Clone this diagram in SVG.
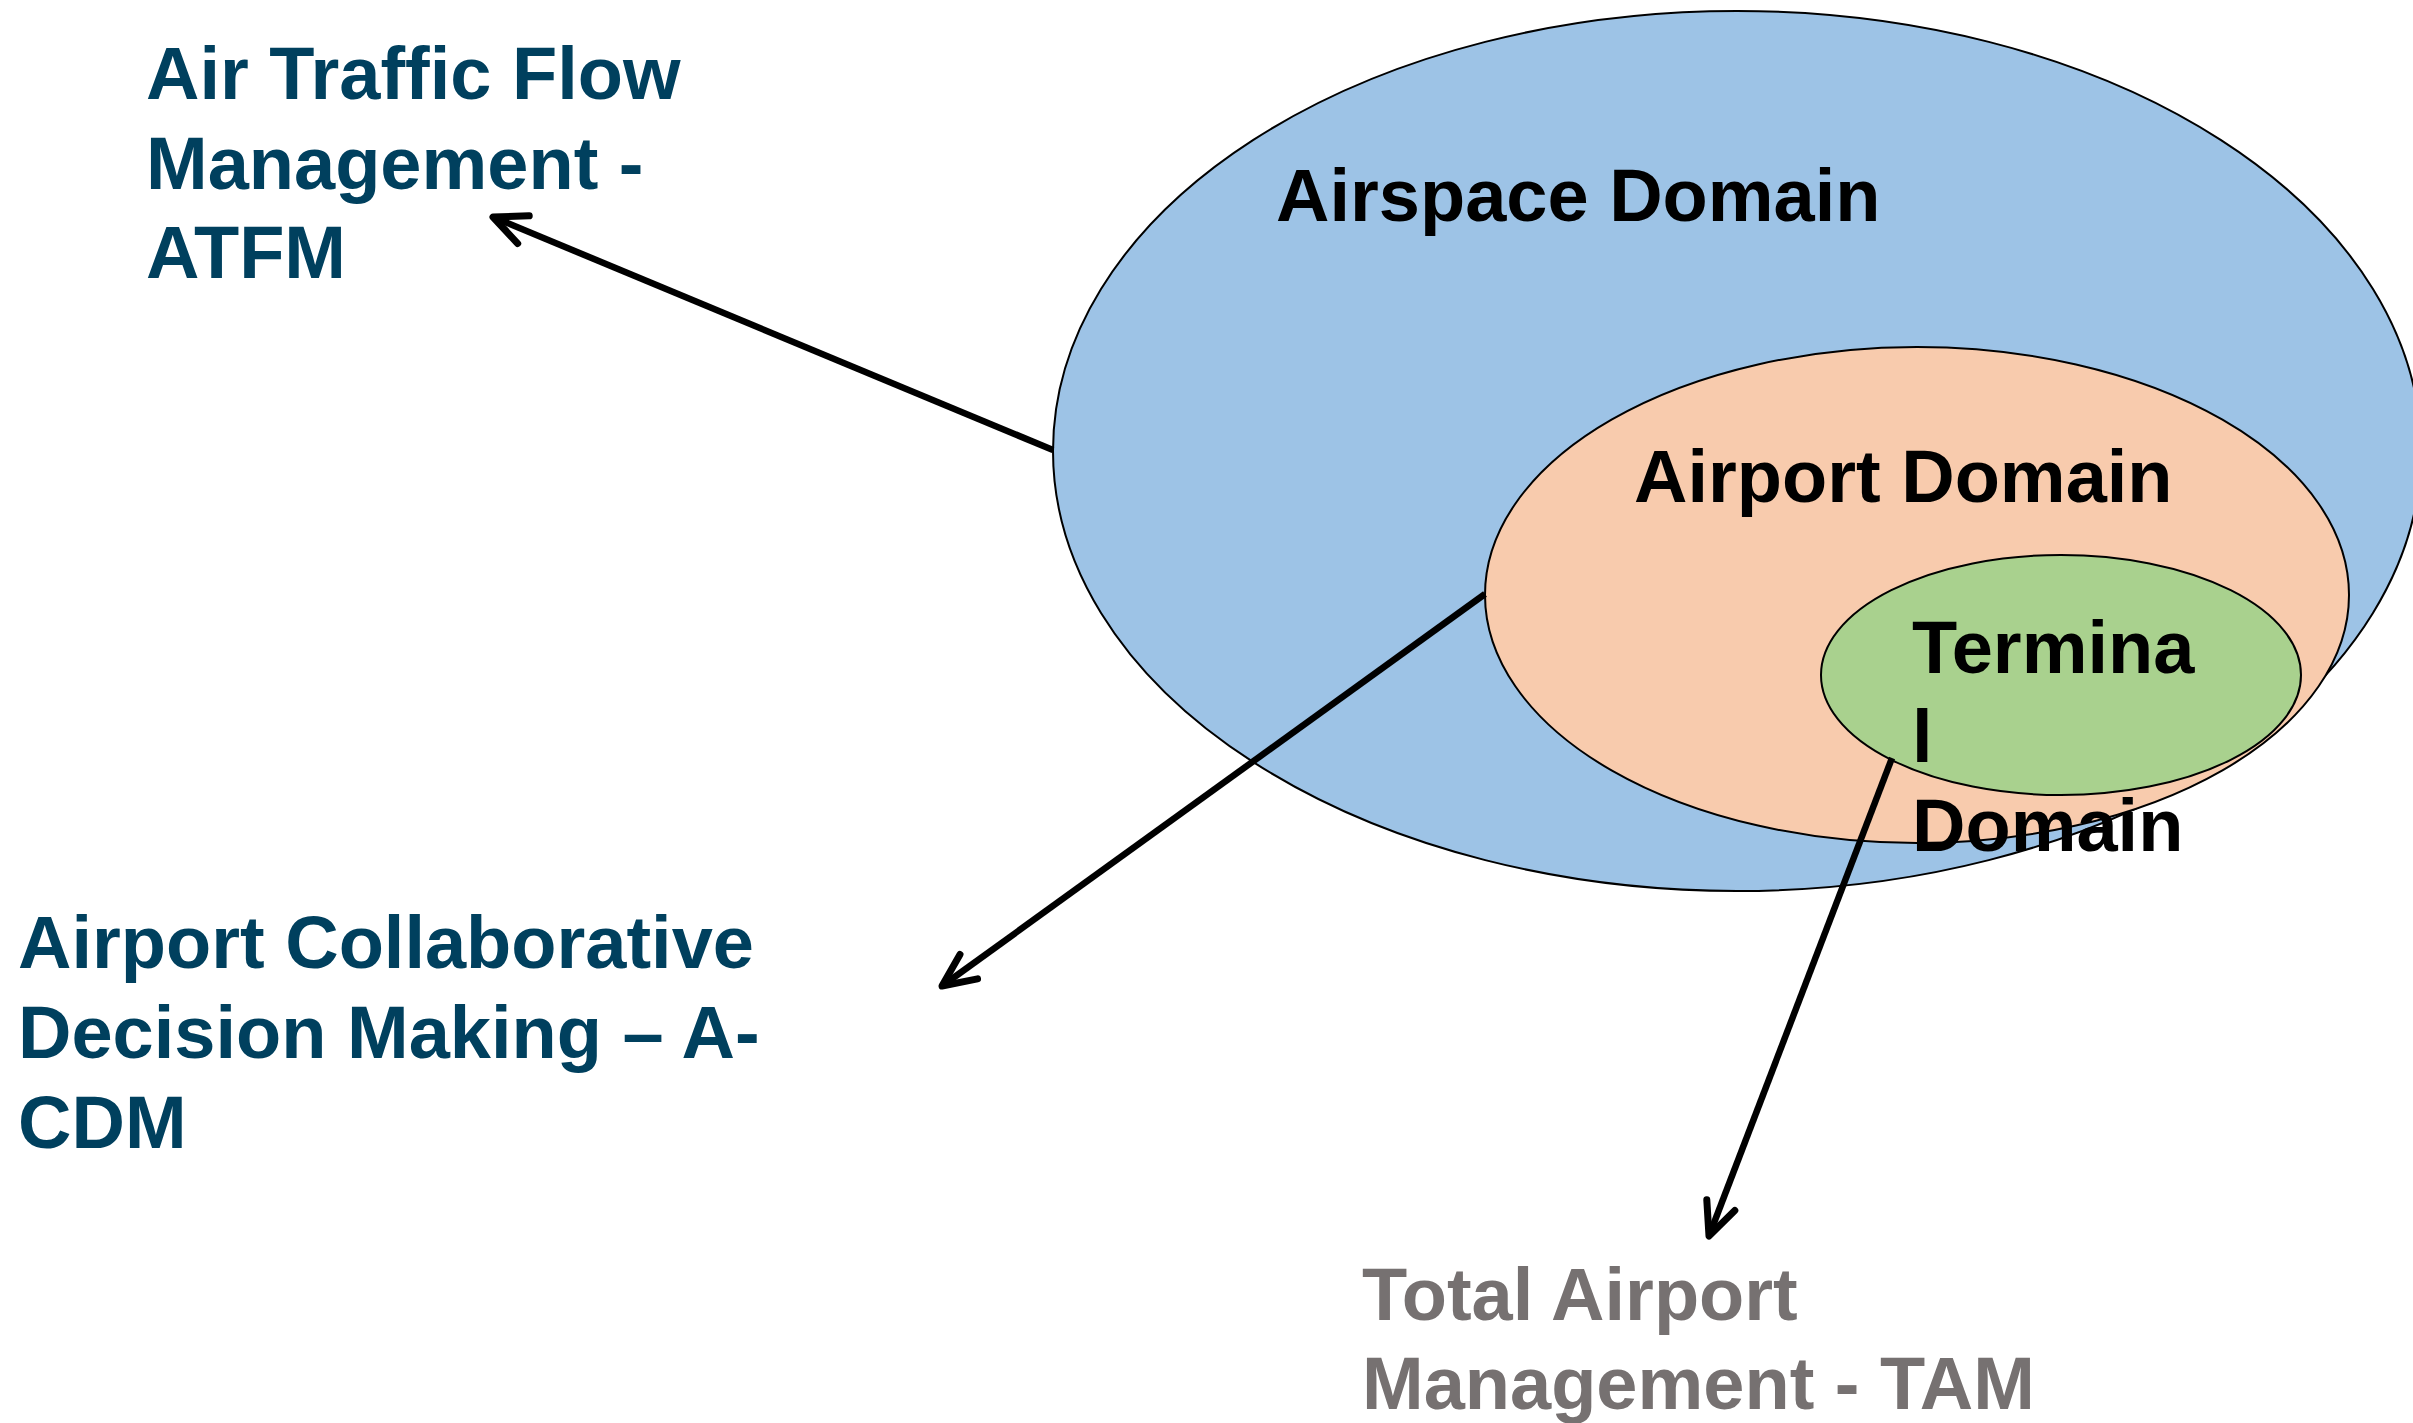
<svg xmlns="http://www.w3.org/2000/svg" width="2413" height="1423" viewBox="0 0 2413 1423">
  <style>
    .dom { stroke: #000; stroke-width: 2; }
    .lbl { font-family: "Liberation Sans", Arial, sans-serif; font-weight: bold; font-size: 74px; }
    .blue { fill: #00405E; }
    .gray { fill: #767171; }
    .blk { fill: #000; }
    .conn { stroke: #000; stroke-width: 6.5; fill: none; }
  </style>
  <defs>
    <marker id="arrow" markerUnits="userSpaceOnUse" viewBox="-40 -20 50 40" refX="0" refY="0" markerWidth="50" markerHeight="40" orient="auto" overflow="visible">
      <path d="M -33 -15 L 0 0 L -33 15" fill="none" stroke="#000" stroke-width="7" stroke-linecap="round" stroke-linejoin="round"/>
    </marker>
  </defs>
  <rect width="2413" height="1423" fill="#fff"/>

  <g id="airspace-domain">
    <ellipse class="dom" cx="1737" cy="451" rx="684" ry="440" fill="#9DC3E6"/>
  </g>
  <g id="airport-domain">
    <ellipse class="dom" cx="1917" cy="595" rx="432" ry="248" fill="#F8CBAD"/>
  </g>
  <g id="terminal-domain">
    <ellipse class="dom" cx="2061" cy="675" rx="240" ry="120" fill="#A9D18E"/>
  </g>

  <g id="connectors">
    <line class="conn" x1="1053" y1="450" x2="493" y2="217" marker-end="url(#arrow)"/>
    <line class="conn" x1="1485" y1="594" x2="942" y2="986" marker-end="url(#arrow)"/>
    <line class="conn" x1="1892" y1="758" x2="1709" y2="1236" marker-end="url(#arrow)"/>
  </g>

  <g id="airspace-label">
    <text class="lbl blk" x="1276" y="221">Airspace Domain</text>
  </g>
  <g id="airport-label">
    <text class="lbl blk" x="1634" y="502">Airport Domain</text>
  </g>
  <g id="terminal-label">
    <text class="lbl blk" x="1912" y="673">Termina</text>
    <text class="lbl blk" x="1912" y="762">l</text>
    <text class="lbl blk" x="1912" y="851">Domain</text>
  </g>

  <g id="atfm">
    <text class="lbl blue" x="146" y="99">Air Traffic Flow</text>
    <text class="lbl blue" x="146" y="189">Management -</text>
    <text class="lbl blue" x="146" y="278">ATFM</text>
  </g>
  <g id="acdm">
    <text class="lbl blue" x="18" y="968">Airport Collaborative</text>
    <text class="lbl blue" x="18" y="1058">Decision Making – A-</text>
    <text class="lbl blue" x="18" y="1148">CDM</text>
  </g>
  <g id="tam">
    <text class="lbl gray" x="1362" y="1320">Total Airport</text>
    <text class="lbl gray" x="1362" y="1409">Management - TAM</text>
  </g>
</svg>
